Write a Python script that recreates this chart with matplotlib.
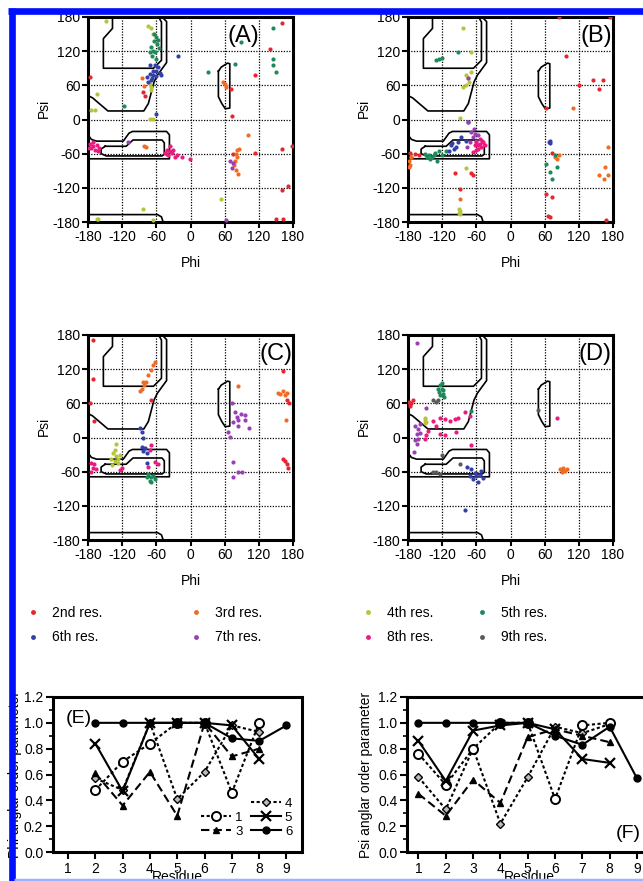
import numpy as np
import matplotlib
matplotlib.use('Agg')
import matplotlib.pyplot as plt
from matplotlib.lines import Line2D
from matplotlib.ticker import MultipleLocator

plt.rcParams['font.family'] = ['Liberation Sans', 'DejaVu Sans']
plt.rcParams['axes.unicode_minus'] = False

# ---------------- data: Ramachandran points (phi, psi) ----------------
A2 = [(-177, 75), (161, 169), (140, 124), (113, 78), (71, 54), (73, 6), (114, -58), (161, -51), (179, -46),
      (160, -124), (171, -116), (151, -174), (162, -175), (-83, 48), (-80, 42), (75, -60)]
A3 = [(57, 66), (63, 57), (60, 62), (82, -54), (80, -60), (81, -66), (78, -72), (77, -80), (80, -89), (84, -95),
      (86, -51), (101, -28), (-78, -48), (-82, -46), (-86, 72), (-82, 58)]
A4 = [(-149, 173), (-75, 165), (-70, 160), (-66, 151), (-165, 45), (-174, 16), (-168, 16), (-66, 1), (-72, 1),
      (-72, 63), (-69, 51), (-70, 57), (54, -139), (-83, -158), (-162, -174), (-165, -174), (-66, -176)]
A5 = [(145, 161), (145, 107), (145, 96), (151, 83), (89, 136), (79, 98), (31, 83), (-116, 23), (-60, 145),
      (-64, 138), (-70, 128), (-58, 132), (-66, 120), (-62, 118), (-55, 125), (-68, 112), (-60, 106), (-72, 118),
      (-64, 150), (-57, 140)]
A6 = [(-76, 75), (-72, 80), (-66, 78), (-60, 86), (-57, 92), (-62, 95), (-54, 82), (-70, 70), (-74, 66), (-60, 76),
      (-52, 78), (-66, 85), (-68, 73), (-22, 111), (-60, 10), (-72, 96)]
A7 = [(63, -177), (75, -76), (73, -85), (-110, -40), (70, -72)]
A8 = [(-177, -43), (-171, -47), (-165, -45), (-174, -50), (-168, -53), (-162, -56), (-160, -50), (-178, -50),
      (-172, -40), (-42, -53), (-36, -56), (-39, -62), (-33, -59), (-27, -65), (-42, -60), (-36, -47), (-24, -62),
      (-15, -65), (-30, -53), (-1, -70), (-45, -58)]
A9 = []

B2 = [(86, 180), (174, 180), (97, 111), (121, 60), (145, 69), (156, 54), (162, 70), (63, 21), (73, -59), (63, -130),
      (73, -136), (65, -170), (70, -171), (168, -177), (-98, -94), (-69, -94), (-66, -98), (-89, -122), (-177, -58),
      (-168, -60), (-174, -66), (-160, -62)]
B3 = [(109, 21), (172, -48), (166, -84), (156, -98), (165, -104), (171, -98), (78, -66), (82, -70), (85, -63),
      (-89, -140), (-178, -72), (-177, -80), (-178, -84), (-175, -66)]
B4 = [(-83, 160), (-69, 119), (-79, 78), (-69, 83), (-78, 60), (-73, 66), (-84, 57), (-75, 72), (-89, 3), (-78, -86),
      (-90, -157), (-89, -161), (-90, -164), (-88, -166)]
B5 = [(-130, 104), (-126, 106), (-121, 108), (-92, 119), (-150, -60), (-144, -63), (-138, -66), (-132, -58),
      (-126, -55), (-129, -72), (-141, -70), (-120, -62), (-114, -55), (-135, -62), (-147, -66), (63, -78),
      (69, -92), (73, -104), (82, -84), (78, -63)]
B6 = [(69, -37), (70, -42), (68, -40), (-105, -45), (-99, -51), (-93, -40), (-108, -55), (-78, -37), (-96, -48),
      (-87, -30), (-102, -42), (-75, -4)]
B7 = [(-75, 72), (-75, -4), (-69, -22), (-66, -31), (-60, -37), (-72, -40), (-77, -48), (-63, -25), (-57, -28),
      (-64, -16)]
B8 = [(-60, -40), (-54, -43), (-51, -49), (-57, -51), (-63, -45), (-48, -40), (-54, -34), (-60, -54), (-66, -57),
      (-50, -37), (-57, -45), (-45, -45)]
B9 = []

C2 = [(-172, 171), (-171, 102), (-177, 60), (-170, 29), (-69, 66), (163, 116), (173, 60), (170, 65), (163, -37),
      (166, -41), (169, -47), (172, -53)]
C3 = [(-66, 127), (-63, 133), (-69, 118), (-75, 110), (-83, 98), (-86, 86), (-89, 81), (-82, 92), (-79, 98),
      (84, 91), (157, 76), (163, 82), (169, 78), (154, 78), (166, 74), (167, 30)]
C4 = [(-136, -27), (-130, -33), (-133, -42), (-127, -37), (-124, -31), (-139, -37), (-133, -22), (-130, -12),
      (-128, -45), (-138, -48)]
C5 = [(-74, -64), (-69, -70), (-66, -68), (-72, -76), (-63, -73), (-77, -70), (-69, -78)]
C6 = [(-89, 16), (-86, 10), (-83, -1), (-86, -16), (-80, -19), (-83, -24), (-77, -28), (-77, -45)]
C7 = [(72, 60), (78, 45), (81, 36), (83, 31), (89, 42), (95, 40), (75, 27), (66, 9), (69, 1), (103, 17), (83, 20),
      (95, 31), (75, -43), (75, -69), (84, -61), (90, -61)]
C8 = [(-175, -44), (-169, -47), (-172, -53), (-175, -61), (-166, -55), (-124, -57), (-120, -53), (-74, -52),
      (-69, -14), (-63, -43), (-57, -46), (-72, -22)]
C9 = []

D2 = [(-177, 56), (-174, 61), (-178, 63), (-172, 66), (-176, 58)]
D3 = [(87, -56), (93, -54), (96, -59), (90, -60), (99, -55), (92, -57)]
D4 = [(-151, 31), (-149, 28), (-150, 34), (-151, 25)]
D5 = [(-124, 92), (-121, 86), (-125, 80), (-123, 74), (-119, 83), (-118, 77), (-127, 86), (-121, 95), (-117, 71),
      (-69, 46)]
D6 = [(-69, -56), (-63, -62), (-60, -68), (-54, -65), (-48, -71), (-66, -73), (-57, -79), (-51, -59), (-72, -68),
      (-77, -51), (-80, -127)]
D7 = [(-165, 166), (-168, 20), (-162, 15), (-165, 6), (-159, 23), (-168, -5), (-165, -11), (-162, -3), (-159, 8),
      (-148, 51), (-170, -25)]
D8 = [(-136, 29), (-130, 20), (-124, 35), (-115, 32), (-107, 29), (-98, 32), (-95, 9), (-124, 7), (-115, 4),
      (-92, 35), (-80, 44), (-72, 38), (-145, 12), (-151, -2), (-148, 4), (-69, -13), (81, 34)]
D9 = [(-136, 66), (-130, 63), (-127, 65), (-89, -46), (-136, -61), (-130, -61), (-124, -64), (-121, -31), (48, 49)]

RES_LABELS = ['2nd res.', '3rd res.', '4th res.', '5th res.', '6th res.', '7th res.', '8th res.', '9th res.']
RES_COLORS = ['#e3262f', '#f26b22', '#b5c43a', '#1d8a5c', '#3340a8', '#9b3fb5', '#ea1a7f', '#5a5a5a']

# allowed-region outlines (phi, psi)
CORE_INNER = [(-137, 180), (-137, 160), (-153, 142), (-153, 90), (-65, 90), (-51, 104), (-51, 171), (-56, 180)]
CORE_OUTER = [(-50, 180), (-42, 172), (-42, 100), (-58, 78), (-64, 66), (-74, 28), (-82, 15), (-145, 15),
              (-172, 38), (-180, 42)]
ALPHA_OUTER = [(-180, -27), (-174, -35), (-165, -38), (-118, -38), (-108, -24), (-102, -21), (-42, -21),
               (-37, -27), (-37, -69), (-180, -69)]
ALPHA_INNER = [(-150, -47), (-113, -47), (-101, -36), (-50, -36), (-46, -41), (-46, -61), (-50, -64), (-148, -64),
               (-157, -60), (-157, -52), (-150, -47)]
BOTTOM_EDGE = [(-180, -167), (-58, -167), (-51, -171), (-48, -180)]
LEFT_HELIX = [(49, 85), (54, 92), (65, 99), (69, 98), (69, 20), (61, 19), (55, 28), (49, 40), (49, 85)]

# ---------------- data: order parameters ----------------
RESIDUES = [1, 2, 3, 4, 5, 6, 7, 8, 9]
nan = np.nan
PHI_S1 = [nan, 0.48, 0.70, 0.84, 1.00, 1.00, 0.46, 1.00, nan]
PHI_S3 = [nan, 0.61, 0.36, 0.62, 0.28, 1.00, 0.74, 0.80, nan]
PHI_S4 = [nan, 0.57, 0.48, 1.00, 0.41, 0.62, 0.98, 0.93, nan]
PHI_S5 = [nan, 0.84, 0.47, 1.00, 1.00, 1.00, 0.98, 0.72, nan]
PHI_S6 = [nan, 1.00, 1.00, 1.00, 1.00, 1.00, 0.88, 0.86, 0.98]

PSI_S1 = [0.76, 0.52, 0.80, 1.00, 1.00, 0.41, 0.98, 1.00, nan]
PSI_S3 = [0.45, 0.28, 0.56, 0.38, 0.89, 0.95, 0.90, 0.85, nan]
PSI_S4 = [0.58, 0.33, 0.80, 0.22, 0.58, 0.97, 0.92, 0.99, nan]
PSI_S5 = [0.86, 0.55, 0.94, 0.98, 1.00, 0.95, 0.72, 0.69, nan]
PSI_S6 = [1.00, 1.00, 1.00, 1.00, 1.00, 0.90, 0.83, 0.97, 0.57]

# ---------------- figure ----------------
W, H = 643, 881
fig = plt.figure(figsize=(W / 100, H / 100), dpi=100)


def px_axes(l, t, r, b):
    return fig.add_axes([l / W, 1 - b / H, (r - l) / W, (b - t) / H])


def rama(ax, sets, label, lxy):
    ax.set_xlim(-180, 180)
    ax.set_ylim(-180, 180)
    ticks = np.arange(-180, 181, 60)
    ax.set_xticks(ticks)
    ax.set_yticks(ticks)
    ax.grid(True, color='k', linestyle=(0, (1, 1.2)), linewidth=0.9)
    ax.set_axisbelow(True)
    for sp in ax.spines.values():
        sp.set_linewidth(2.2)
    ax.tick_params(direction='out', length=4, width=1.5, labelsize=10, pad=1.5)
    for cont in (CORE_INNER, CORE_OUTER, ALPHA_OUTER, ALPHA_INNER, BOTTOM_EDGE, LEFT_HELIX):
        c = np.array(cont)
        ax.plot(c[:, 0], c[:, 1], color='k', lw=1.2, zorder=2)
    for pts, col in zip(sets, RES_COLORS):
        if len(pts) == 0:
            continue
        a = np.array(pts)
        ax.scatter(a[:, 0], a[:, 1], s=9, color=col, linewidths=0, zorder=3)
    ax.set_xlabel('Phi', fontsize=10)
    ax.set_ylabel('Psi', fontsize=10)
    ax.xaxis.set_label_coords(0.5, -0.165)
    ax.yaxis.set_label_coords(-0.18, 0.555)
    ax.text(lxy[0], lxy[1], label, transform=ax.transAxes, fontsize=17, ha='center', va='center', zorder=5)


axA = px_axes(88, 17, 293, 222)
axB = px_axes(408, 17, 613, 222)
axC = px_axes(88, 335, 293, 540)
axD = px_axes(408, 335, 613, 540)
rama(axA, [A2, A3, A4, A5, A6, A7, A8, A9], '(A)', (0.76, 0.905))
rama(axB, [B2, B3, B4, B5, B6, B7, B8, B9], '(B)', (0.92, 0.905))
rama(axC, [C2, C3, C4, C5, C6, C7, C8, C9], '(C)', (0.915, 0.905))
rama(axD, [D2, D3, D4, D5, D6, D7, D8, D9], '(D)', (0.91, 0.905))

# residue legend (4 columns x 2 rows)
col_x = [33, 196, 368, 482]
for i, x in enumerate(col_x):
    hs = []
    for j in (i, i + 4):
        hs.append(Line2D([], [], linestyle='none', marker='o', markersize=3.5,
                         markerfacecolor=RES_COLORS[j], markeredgewidth=0, label=RES_LABELS[j]))
    fig.legend(handles=hs, loc='upper left', bbox_to_anchor=((x - 7) / W, 1 - 606 / H),
               frameon=False, fontsize=10, handlelength=1.0, handletextpad=0.85,
               borderpad=0, borderaxespad=0, labelspacing=0.75)


def order_axes(ax, s1, s3, s4, s5, s6, xlim, ylabel):
    ax.plot(RESIDUES, s4, linestyle=(0, (1.5, 1.2)), color='k', lw=1.5, marker='D', markersize=4,
            markerfacecolor='#bbbbbb', markeredgecolor='k', label='4')
    ax.plot(RESIDUES, s1, linestyle=(0, (1.5, 1.2)), color='k', lw=1.5, marker='o', markersize=6.5,
            markerfacecolor='white', markeredgewidth=1.4, label='1')
    ax.plot(RESIDUES, s3, linestyle=(0, (4, 2)), color='k', lw=1.5, marker='^', markersize=5, label='3')
    ax.plot(RESIDUES, s5, linestyle='-', color='k', lw=1.5, marker='x', markersize=6.5,
            markeredgewidth=1.6, label='5')
    ax.plot(RESIDUES, s6, linestyle='-', color='k', lw=1.5, marker='o', markersize=5, label='6')
    ax.set_xlim(*xlim)
    ax.set_ylim(0, 1.2)
    ax.set_xticks(RESIDUES)
    ax.set_yticks(np.arange(0, 1.21, 0.2))
    ax.yaxis.set_minor_locator(MultipleLocator(0.1))
    ax.yaxis.set_major_formatter(matplotlib.ticker.FormatStrFormatter('%.1f'))
    for sp in ax.spines.values():
        sp.set_linewidth(2.2)
    ax.tick_params(which='major', direction='out', length=5, width=1.5, labelsize=10, pad=2)
    ax.tick_params(which='minor', direction='out', length=3, width=1.2)
    ax.set_xlabel('Residue', fontsize=10)
    ax.set_ylabel(ylabel, fontsize=10)
    ax.xaxis.set_label_coords(0.5, -0.115)


axE = px_axes(53, 697, 301.5, 852)
axF = px_axes(407, 697, 652, 852)
order_axes(axE, PHI_S1, PHI_S3, PHI_S4, PHI_S5, PHI_S6, (0.45, 9.55), 'Phi anglar order parameter')
order_axes(axF, PSI_S1, PSI_S3, PSI_S4, PSI_S5, PSI_S6, (0.58, 9.55), 'Psi anglar order parameter')
axE.yaxis.set_label_coords(-0.125, 0.5)
axF.yaxis.set_label_coords(-0.14, 0.5)
axE.text(0.05, 0.86, '(E)', transform=axE.transAxes, fontsize=14, ha='left', va='center')
axF.text(0.905, 0.12, '(F)', transform=axF.transAxes, fontsize=14, ha='center', va='center')

hE = {l.get_label(): l for l in axE.get_lines()}
blank = Line2D([], [], linestyle='none', marker='none', label=' ')
axE.legend(handles=[blank, hE['1'], hE['3'], hE['4'], hE['5'], hE['6']], ncol=2, loc='lower right',
           bbox_to_anchor=(1.0, 0.03), frameon=False, fontsize=9.5, handlelength=2.3, handletextpad=0.3,
           columnspacing=0.6, labelspacing=0.15, borderpad=0.2)

# blue page border
fig.add_artist(Line2D([8 / W, 1], [1 - 10.5 / H, 1 - 10.5 / H], transform=fig.transFigure,
                      color='#0010ff', lw=4.8, zorder=100, solid_capstyle='butt'))
fig.add_artist(Line2D([11.5 / W, 11.5 / W], [0, 1 - 8 / H], transform=fig.transFigure,
                      color='#0010ff', lw=4.8, zorder=100, solid_capstyle='butt'))
fig.add_artist(Line2D([14 / W, 1], [1 - 879.5 / H, 1 - 879.5 / H], transform=fig.transFigure,
                      color='#9fb2ff', lw=2.5, zorder=100, solid_capstyle='butt'))

fig.savefig('out.png', dpi=100)
